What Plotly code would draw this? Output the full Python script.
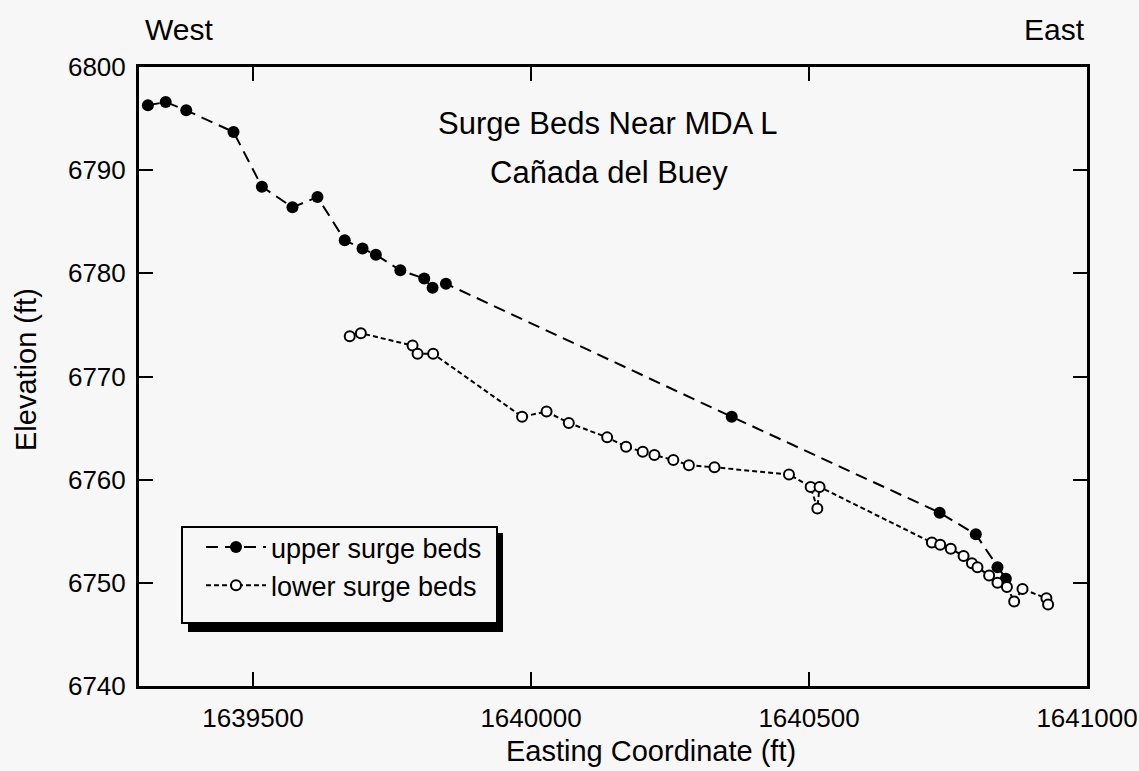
import plotly.graph_objects as go

# ---- data ----
upper_x = [1639311, 1639343, 1639380, 1639465, 1639516, 1639571, 1639616, 1639665,
           1639697, 1639721, 1639765, 1639808, 1639823, 1639847, 1640361, 1640735,
           1640800, 1640839, 1640854]
upper_y = [6796.3, 6796.6, 6795.8, 6793.7, 6788.4, 6786.4, 6787.4, 6783.2,
           6782.4, 6781.8, 6780.3, 6779.5, 6778.6, 6779.0, 6766.1, 6756.8,
           6754.7, 6751.5, 6750.4]

lower_x = [1639674, 1639694, 1639787, 1639796, 1639824, 1639984, 1640028, 1640068,
           1640137, 1640171, 1640201, 1640222, 1640256, 1640284, 1640330, 1640464,
           1640503, 1640515, 1640519, 1640721, 1640736, 1640755, 1640778, 1640793,
           1640803, 1640824, 1640839, 1640856, 1640869, 1640884, 1640927, 1640930]
lower_y = [6773.9, 6774.2, 6773.0, 6772.2, 6772.2, 6766.1, 6766.6, 6765.5,
           6764.1, 6763.2, 6762.7, 6762.4, 6761.9, 6761.4, 6761.2, 6760.5,
           6759.3, 6757.2, 6759.3, 6753.9, 6753.7, 6753.3, 6752.6, 6751.9,
           6751.5, 6750.7, 6750.0, 6749.6, 6748.2, 6749.4, 6748.5, 6747.9]

x_tick_vals = [1639500, 1640000, 1640500, 1641000]
x_tick_text = ["1639500", "1640000", "1640500", "1641000"]
y_tick_vals = [6740, 6750, 6760, 6770, 6780, 6790, 6800]
y_tick_text = ["6740", "6750", "6760", "6770", "6780", "6790", "6800"]

series_names = ["upper surge beds", "lower surge beds"]
title_lines = ["Surge Beds Near MDA L", "Cañada del Buey"]
x_title = "Easting Coordinate (ft)"
y_title = "Elevation (ft)"
side_labels = ["West", "East"]

BG = "#f7f7f7"
FONT = "Liberation Sans, Arial, Helvetica, sans-serif"

fig = go.Figure()
fig.add_trace(go.Scatter(
    x=upper_x, y=upper_y, name=series_names[0], mode="lines+markers",
    line=dict(color="black", width=2, dash="12px,7px"),
    marker=dict(symbol="circle", size=12, color="black"),
))
fig.add_trace(go.Scatter(
    x=lower_x, y=lower_y, name=series_names[1], mode="lines+markers",
    line=dict(color="black", width=2, dash="5px,3px"),
    marker=dict(symbol="circle", size=10, color="white",
                line=dict(color="black", width=2)),
))

axis_common = dict(
    showline=True, linewidth=3, linecolor="black", mirror="ticks",
    ticks="inside", ticklen=14, tickwidth=2, tickcolor="black",
    showgrid=False, zeroline=False,
    tickfont=dict(family=FONT, size=26, color="black"),
    automargin=False,
)

fig.update_xaxes(range=[1639295, 1641000], tickvals=x_tick_vals, ticktext=x_tick_text,
                 ticklabelstandoff=7, **axis_common)
fig.update_yaxes(range=[6740, 6800], tickvals=y_tick_vals, ticktext=y_tick_text,
                 ticklabelstandoff=5, **axis_common)

L, R, T, B = 139, 52, 67, 85
W, H = 1139, 771
pw, ph = W - L - R, H - T - B


def px(xp):
    return (xp - L) / pw


def py(yp):
    return (H - B - yp) / ph


# legend box with drop shadow
fig.add_shape(type="rect", xref="paper", yref="paper",
              x0=px(188), x1=px(503), y0=py(632), y1=py(533),
              fillcolor="black", line=dict(width=0), layer="above")
fig.add_shape(type="rect", xref="paper", yref="paper",
              x0=px(182), x1=px(497), y0=py(623), y1=py(527),
              fillcolor=BG, line=dict(color="black", width=2), layer="above")

big_font = dict(family=FONT, size=31, color="black")
axis_title_font = dict(family=FONT, size=29, color="black")
side_font = dict(family=FONT, size=30, color="black")
annotations = [
    dict(text=title_lines[0], x=px(607), y=py(123), xanchor="center", yanchor="middle", font=big_font),
    dict(text=title_lines[1], x=px(609), y=py(172), xanchor="center", yanchor="middle", font=big_font),
    dict(text=side_labels[0], x=px(143), y=py(29), xanchor="left", yanchor="middle", font=side_font),
    dict(text=side_labels[1], x=px(1087), y=py(29), xanchor="right", yanchor="middle", font=side_font),
    dict(text=x_title, x=px(651), y=py(751), xanchor="center", yanchor="middle", font=axis_title_font),
    dict(text=y_title, x=px(26), y=py(370), xanchor="center", yanchor="middle", textangle=-90, font=axis_title_font),
]
for a in annotations:
    a.update(xref="paper", yref="paper", showarrow=False)

fig.update_layout(
    width=W, height=H,
    margin=dict(l=L, r=R, t=T, b=B, pad=0),
    paper_bgcolor=BG, plot_bgcolor=BG,
    font=dict(family=FONT, color="black"),
    showlegend=True,
    legend=dict(x=px(201), y=py(523), xanchor="left", yanchor="top",
                bgcolor="rgba(0,0,0,0)", borderwidth=0,
                font=dict(family=FONT, size=27, color="black"),
                itemwidth=60, tracegroupgap=0),
    annotations=annotations,
)

fig.write_html("out.html")
